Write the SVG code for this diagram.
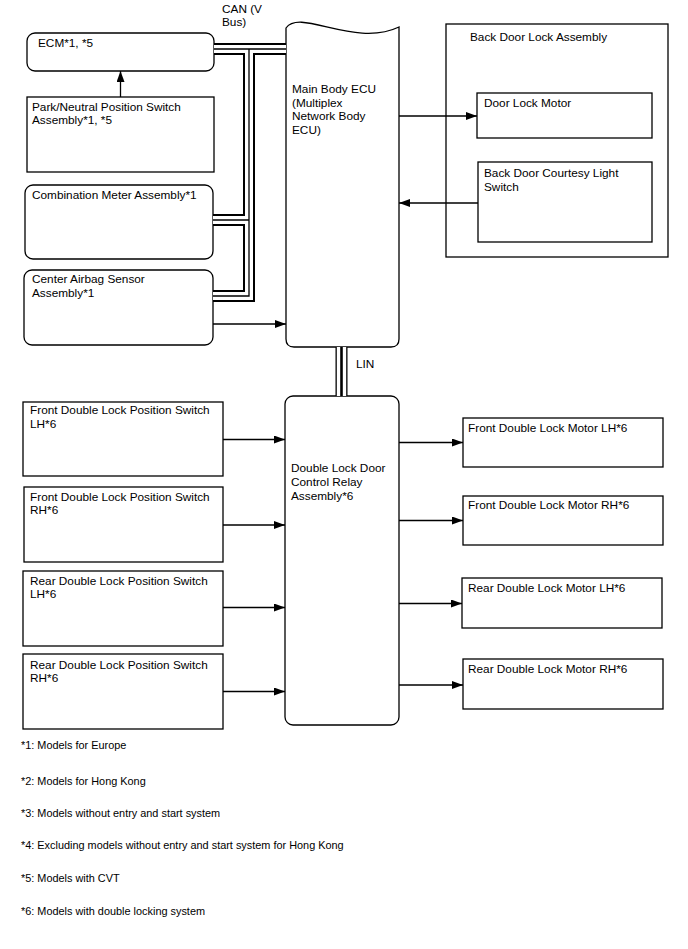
<svg xmlns="http://www.w3.org/2000/svg" width="688" height="949" viewBox="0 0 688 949">
<style>
  .box { fill: #fff; stroke: #000; stroke-width: 1.3; }
  .lbl { font-family: "Liberation Sans", Arial, sans-serif; font-size: 11.8px; fill: #000; }
  .note { font-family: "Liberation Sans", Arial, sans-serif; font-size: 10.9px; fill: #000; }
  .wire { fill: none; stroke: #000; stroke-width: 1.3; marker-end: url(#arr); }
  .busO { fill: none; stroke: #000; stroke-width: 12; stroke-linejoin: miter; }
  .busW { fill: none; stroke: #fff; stroke-width: 8; stroke-linejoin: miter; }
  .busC { fill: none; stroke: #000; stroke-width: 1.3; stroke-linejoin: miter; }
</style>
<defs>
  <marker id="arr" markerUnits="userSpaceOnUse" markerWidth="11" markerHeight="8" refX="11" refY="4" orient="auto">
    <path d="M0,0 L11,4 L0,8 Z" fill="#000"/>
  </marker>
</defs>
<rect width="688" height="949" fill="#fff"/>

<g id="back-door-lock-assembly">
  <rect class="box" x="446" y="24" width="222" height="233"/>
  <text class="lbl" x="470" y="41">Back Door Lock Assembly</text>
</g>

<g id="ecm">
  <rect class="box" x="27" y="33" width="187" height="38" rx="8"/>
  <text class="lbl" x="38" y="47">ECM*1, *5</text>
</g>
<g id="park-neutral">
  <rect class="box" x="27" y="97" width="187" height="75"/>
  <text class="lbl" x="32" y="111">Park/Neutral Position Switch</text>
  <text class="lbl" x="32" y="124">Assembly*1, *5</text>
</g>
<g id="combination-meter">
  <rect class="box" x="25" y="185" width="188" height="74" rx="8"/>
  <text class="lbl" x="32" y="199">Combination Meter Assembly*1</text>
</g>
<g id="center-airbag">
  <rect class="box" x="24" y="270" width="189" height="75" rx="8"/>
  <text class="lbl" x="32" y="283">Center Airbag Sensor</text>
  <text class="lbl" x="32" y="297">Assembly*1</text>
</g>
<g id="main-body-ecu">
  <path class="box" d="M286,28 C300,8 355,48 399,27 V339 Q399,347 391,347 H294 Q286,347 286,339 Z"/>
  <text class="lbl" x="292" y="93">Main Body ECU</text>
  <text class="lbl" x="292" y="107">(Multiplex</text>
  <text class="lbl" x="292" y="120">Network Body</text>
  <text class="lbl" x="292" y="134">ECU)</text>
</g>
<g id="door-lock-motor">
  <rect class="box" x="477" y="93" width="175" height="45"/>
  <text class="lbl" x="484" y="107">Door Lock Motor</text>
</g>
<g id="courtesy-switch">
  <rect class="box" x="478" y="162" width="174" height="80"/>
  <text class="lbl" x="484" y="177">Back Door Courtesy Light</text>
  <text class="lbl" x="484" y="191">Switch</text>
</g>

<g id="double-lock-relay">
  <rect class="box" x="285" y="396" width="114" height="329" rx="8"/>
  <text class="lbl" x="291" y="472">Double Lock Door</text>
  <text class="lbl" x="291" y="486">Control Relay</text>
  <text class="lbl" x="291" y="500">Assembly*6</text>
</g>

<g id="front-switch-lh">
  <rect class="box" x="23" y="402" width="200" height="74"/>
  <text class="lbl" x="30" y="414">Front Double Lock Position Switch</text>
  <text class="lbl" x="30" y="428">LH*6</text>
</g>
<g id="front-switch-rh">
  <rect class="box" x="24" y="487" width="199" height="75"/>
  <text class="lbl" x="30" y="501">Front Double Lock Position Switch</text>
  <text class="lbl" x="30" y="514">RH*6</text>
</g>
<g id="rear-switch-lh">
  <rect class="box" x="23" y="571" width="200" height="75"/>
  <text class="lbl" x="30" y="585">Rear Double Lock Position Switch</text>
  <text class="lbl" x="30" y="598">LH*6</text>
</g>
<g id="rear-switch-rh">
  <rect class="box" x="23" y="654" width="200" height="75"/>
  <text class="lbl" x="30" y="669">Rear Double Lock Position Switch</text>
  <text class="lbl" x="30" y="682">RH*6</text>
</g>

<g id="front-motor-lh">
  <rect class="box" x="463" y="418" width="200" height="49"/>
  <text class="lbl" x="468" y="432">Front Double Lock Motor LH*6</text>
</g>
<g id="front-motor-rh">
  <rect class="box" x="463" y="496" width="200" height="49"/>
  <text class="lbl" x="468" y="509">Front Double Lock Motor RH*6</text>
</g>
<g id="rear-motor-lh">
  <rect class="box" x="462" y="578" width="200" height="50"/>
  <text class="lbl" x="468" y="592">Rear Double Lock Motor LH*6</text>
</g>
<g id="rear-motor-rh">
  <rect class="box" x="463" y="659" width="200" height="50"/>
  <text class="lbl" x="468" y="673">Rear Double Lock Motor RH*6</text>
</g>

<g id="connectors">
  <path class="busO" d="M214,49 H286 M249,49 V296 H213 M249,220 H213"/>
  <path class="busW" d="M214,49 H286 M249,49 V296 H213 M249,220 H213"/>
  <path class="busC" d="M214,49 H286 M249,49 V296 H213 M249,220 H213"/>
  <text class="lbl" x="222" y="13">CAN (V</text>
  <text class="lbl" x="222" y="26">Bus)</text>

  <path d="M341.5,347 V396" fill="none" stroke="#000" stroke-width="12"/>
  <path d="M341.5,347 V396" fill="none" stroke="#fff" stroke-width="9.4"/>
  <path d="M341.5,347 V396" fill="none" stroke="#000" stroke-width="2.6"/>
  <text class="lbl" x="356" y="368">LIN</text>

  <path class="wire" d="M120.5,97 V71"/>
  <path class="wire" d="M213,324 H286"/>
  <path class="wire" d="M399,116 H477"/>
  <path class="wire" d="M478,203 H399"/>

  <path class="wire" d="M223,439.5 H285"/>
  <path class="wire" d="M223,525 H285"/>
  <path class="wire" d="M223,607.5 H285"/>
  <path class="wire" d="M223,691.5 H285"/>

  <path class="wire" d="M399,442.5 H463"/>
  <path class="wire" d="M399,520.5 H463"/>
  <path class="wire" d="M399,603.5 H462"/>
  <path class="wire" d="M399,685 H463"/>
</g>

<g id="footnotes">
  <text class="note" x="21" y="749">*1: Models for Europe</text>
  <text class="note" x="21" y="785">*2: Models for Hong Kong</text>
  <text class="note" x="21" y="817">*3: Models without entry and start system</text>
  <text class="note" x="21" y="849">*4: Excluding models without entry and start system for Hong Kong</text>
  <text class="note" x="21" y="882">*5: Models with CVT</text>
  <text class="note" x="21" y="915">*6: Models with double locking system</text>
</g>
</svg>
